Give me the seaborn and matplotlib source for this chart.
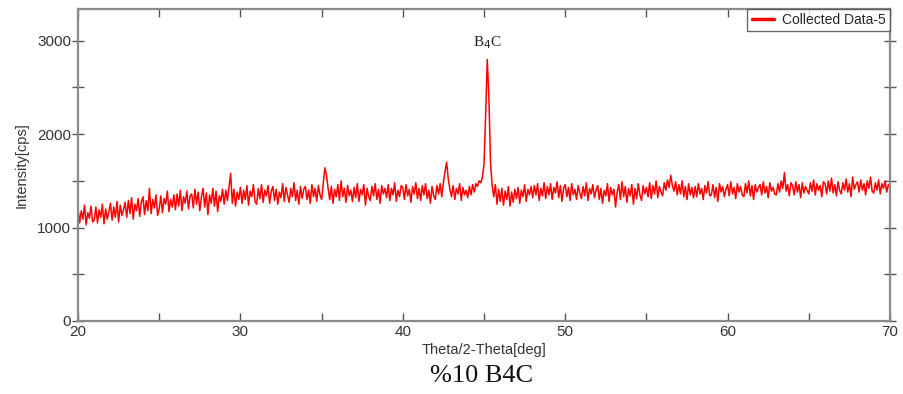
import numpy as np
import pandas as pd
import seaborn as sns
import matplotlib
matplotlib.use("Agg")
import matplotlib.pyplot as plt

# XRD scan of the %10 B4C sample, 2-theta from 20 to 70 deg in 0.1 deg steps
two_theta_start = 20.0
two_theta_step = 0.1

intensity_cps = [
    # 20
    1210, 1050, 1180, 1090, 1240, 1030, 1160, 1100, 1230, 1060,
    # 21
    1080, 1220, 1050, 1190, 1110, 1250, 1040, 1200, 1090, 1170,
    # 22
    1260, 1080, 1220, 1110, 1280, 1060, 1240, 1130, 1190, 1270,
    # 23
    1110, 1290, 1150, 1320, 1090, 1250, 1180, 1310, 1120, 1270,
    # 24
    1330, 1140, 1290, 1180, 1420, 1150, 1300, 1210, 1350, 1130,
    # 25
    1200, 1340, 1160, 1310, 1250, 1390, 1170, 1300, 1220, 1350,
    # 26
    1190, 1360, 1230, 1400, 1180, 1330, 1260, 1390, 1200, 1340,
    # 27
    1360, 1210, 1410, 1250, 1380, 1180, 1330, 1420, 1220, 1370,
    # 28
    1140, 1350, 1260, 1420, 1230, 1390, 1170, 1340, 1280, 1410,
    # 29
    1250, 1400, 1290, 1440, 1580, 1260, 1410, 1230, 1380, 1300,
    # 30
    1430, 1260, 1400, 1300, 1450, 1240, 1390, 1330, 1460, 1280,
    # 31
    1250, 1420, 1310, 1460, 1270, 1400, 1340, 1450, 1260, 1390,
    # 32
    1440, 1290, 1410, 1250, 1380, 1320, 1470, 1280, 1430, 1350,
    # 33
    1270, 1420, 1330, 1480, 1290, 1400, 1250, 1440, 1310, 1410,
    # 34
    1440, 1300, 1400, 1260, 1460, 1330, 1420, 1280, 1450, 1350,
    # 35
    1300, 1470, 1640, 1560, 1420, 1300, 1440, 1260, 1410, 1330,
    # 36
    1460, 1290, 1500, 1330, 1420, 1270, 1450, 1340, 1400, 1280,
    # 37
    1430, 1320, 1470, 1280, 1410, 1350, 1460, 1240, 1420, 1330,
    # 38
    1290, 1440, 1340, 1470, 1300, 1410, 1260, 1450, 1360, 1420,
    # 39
    1320, 1460, 1290, 1420, 1350, 1480, 1280, 1400, 1330, 1450,
    # 40
    1430, 1300, 1460, 1340, 1410, 1270, 1440, 1360, 1480, 1310,
    # 41
    1420, 1290, 1450, 1350, 1470, 1310, 1400, 1260, 1440, 1340,
    # 42
    1300, 1450, 1360, 1470, 1330, 1480, 1600, 1700, 1520, 1410,
    # 43
    1330, 1450, 1300, 1420, 1360, 1470, 1290, 1430, 1350, 1400,
    # 44
    1320, 1440, 1350, 1460, 1380, 1470, 1440, 1500, 1480, 1540,
    # 45
    1680, 2200, 2800, 2400, 1700, 1450, 1330, 1460, 1250, 1410,
    # 46
    1280, 1420, 1240, 1390, 1300, 1440, 1230, 1380, 1270, 1410,
    # 47
    1310, 1430, 1260, 1400, 1330, 1460, 1280, 1410, 1350, 1440,
    # 48
    1320, 1450, 1350, 1470, 1290, 1420, 1340, 1480, 1310, 1440,
    # 49
    1350, 1470, 1300, 1430, 1370, 1490, 1320, 1450, 1280, 1420,
    # 50
    1460, 1330, 1430, 1290, 1470, 1350, 1410, 1300, 1450, 1370,
    # 51
    1310, 1440, 1340, 1480, 1290, 1420, 1360, 1460, 1320, 1400,
    # 52
    1450, 1300, 1420, 1260, 1400, 1340, 1470, 1280, 1430, 1350,
    # 53
    1410, 1220, 1380, 1460, 1300, 1490, 1330, 1440, 1270, 1420,
    # 54
    1340, 1460, 1250, 1420, 1310, 1470, 1350, 1290, 1450, 1360,
    # 55
    1430, 1330, 1480, 1310, 1450, 1360, 1500, 1320, 1440, 1380,
    # 56
    1340, 1480, 1400, 1510, 1430, 1560, 1450, 1390, 1490, 1350,
    # 57
    1460, 1360, 1500, 1330, 1440, 1300, 1470, 1350, 1430, 1320,
    # 58
    1440, 1330, 1470, 1360, 1420, 1300, 1450, 1370, 1490, 1340,
    # 59
    1350, 1460, 1320, 1430, 1280, 1470, 1380, 1440, 1330, 1410,
    # 60
    1460, 1340, 1490, 1360, 1430, 1310, 1470, 1380, 1440, 1350,
    # 61
    1330, 1470, 1370, 1500, 1340, 1450, 1300, 1460, 1380, 1430,
    # 62
    1460, 1350, 1490, 1370, 1440, 1320, 1480, 1390, 1430, 1360,
    # 63
    1350, 1470, 1380, 1500, 1420, 1590, 1390, 1460, 1340, 1480,
    # 64
    1450, 1350, 1490, 1380, 1460, 1320, 1480, 1370, 1440, 1400,
    # 65
    1360, 1480, 1390, 1510, 1350, 1470, 1400, 1450, 1330, 1490,
    # 66
    1470, 1360, 1500, 1390, 1530, 1370, 1460, 1340, 1490, 1400,
    # 67
    1360, 1480, 1400, 1520, 1380, 1470, 1330, 1540, 1410, 1460,
    # 68
    1490, 1380, 1510, 1400, 1470, 1350, 1500, 1420, 1540, 1390,
    # 69
    1370, 1480, 1400, 1510, 1360, 1470, 1420, 1500, 1380, 1460,
    # 70
    1430,
]

two_theta = [round(two_theta_start + i * two_theta_step, 1) for i in range(len(intensity_cps))]

series_name = "Collected Data-5"
peak_label = r"B$_{4}$C"
peak_position = 45.2
peak_intensity = 2800
x_label = "Theta/2-Theta[deg]"
y_label = "Intensity[cps]"
caption = "%10 B4C"
x_ticks = [20, 30, 40, 50, 60, 70]
y_ticks = [0, 1000, 2000, 3000]

df = pd.DataFrame({"two_theta": two_theta, "intensity": intensity_cps})

sns.set_theme(style="ticks")
plt.rcParams["font.family"] = ["Liberation Sans", "DejaVu Sans"]

fig = plt.figure(figsize=(9.04, 3.94), dpi=100)
ax = fig.add_axes([0.0863, 0.1853, 0.8982, 0.7919])

sns.lineplot(data=df, x="two_theta", y="intensity", ax=ax, color="#ff0000",
             linewidth=1.1, label=series_name, estimator=None, sort=False)

ax.set_xlim(20, 70)
ax.set_ylim(0, 3340)
ax.set_xticks(x_ticks)
ax.set_xticks(np.arange(20, 71, 5), minor=True)
ax.set_yticks(y_ticks)
ax.set_yticks(np.arange(0, 3001, 500), minor=True)

frame_color = "#8a8a8a"
for side in ax.spines.values():
    side.set_visible(True)
    side.set_color(frame_color)
    side.set_linewidth(1.6)

ax.tick_params(which="both", direction="in", top=True, right=True,
               color="#555555", width=1.0, labelcolor="#333333", labelsize=11)
ax.tick_params(which="major", length=6)
ax.tick_params(which="minor", length=6)
ax.tick_params(axis="y", which="both", direction="inout", length=8, pad=1)
ax.tick_params(axis="x", which="both", pad=3)

ax.set_xlabel(x_label, fontsize=10.5, color="#333333", labelpad=3)
ax.set_ylabel(y_label, fontsize=10.5, color="#333333", labelpad=6)

ax.annotate(peak_label, xy=(peak_position, peak_intensity), xytext=(0, 6),
            textcoords="offset points", ha="center", va="bottom", fontsize=11,
            family=["Liberation Serif", "DejaVu Serif"], color="#222222")

leg = ax.legend(loc="upper right", borderaxespad=0, frameon=True, fancybox=False,
                fontsize=10, handlelength=1.6, handletextpad=0.6,
                borderpad=0.3, shadow=False)
leg.get_frame().set_edgecolor("#444444")
leg.get_frame().set_linewidth(1.0)
for line in leg.get_lines():
    line.set_linewidth(2.5)

fig.text(0.533, 0.045, caption, ha="center", va="center", fontsize=19,
         family=["Liberation Serif", "DejaVu Serif"], color="#111111")

fig.savefig("out.png", dpi=100)
